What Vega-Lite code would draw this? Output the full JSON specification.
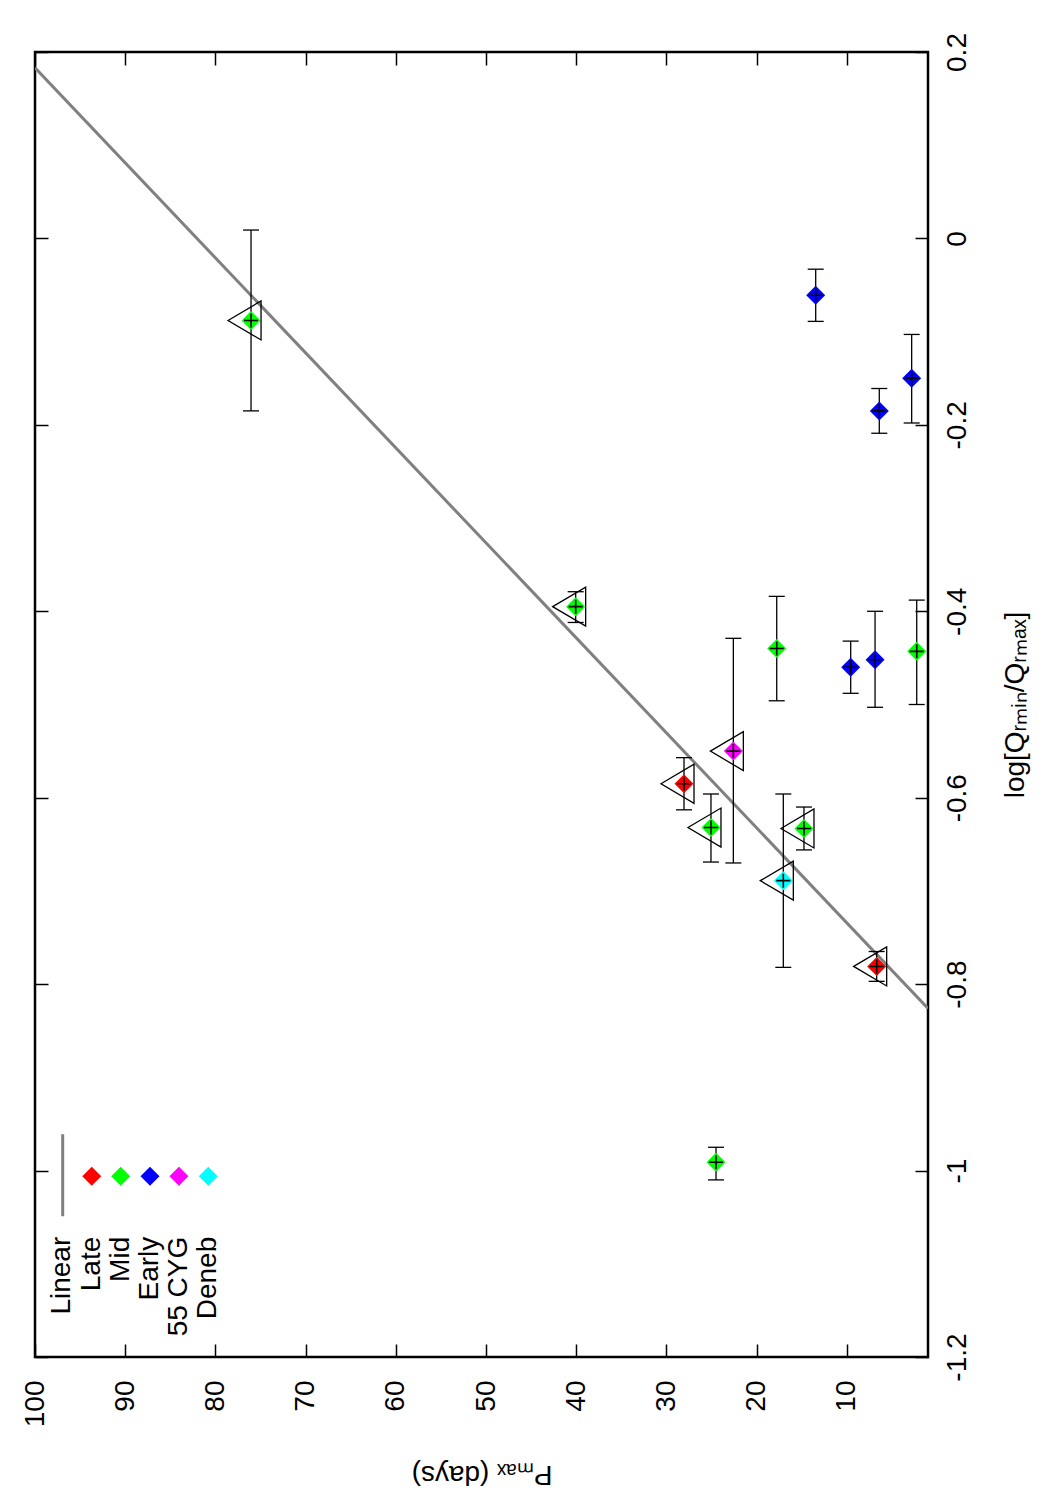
{
  "$schema": "https://vega.github.io/schema/vega-lite/v6.json",
  "width": 893,
  "height": 1305,
  "autosize": {"type": "none"},
  "padding": {"left": 35, "top": 52, "right": 122, "bottom": 143},
  "background": "white",
  "config": {
    "font": "Liberation Sans",
    "view": {"stroke": "black", "strokeWidth": 2.5},
    "axis": {"grid": false, "domain": false, "tickColor": "black", "tickWidth": 1.5, "labelColor": "black", "titleColor": "black", "labelFont": "Liberation Sans", "titleFont": "Liberation Sans", "labelFontSize": 28, "titleFontSize": 28, "titleFontWeight": "normal", "labelFlush": false, "labelOverlap": false}
  },
  "datasets": {
    "points": [
      {"P": 76.05, "Q": -0.088, "lo": -0.185, "hi": 0.009, "group": "Mid", "fit": true},
      {"P": 40.06, "Q": -0.395, "lo": -0.412, "hi": -0.379, "group": "Mid", "fit": true},
      {"P": 17.77, "Q": -0.440, "lo": -0.496, "hi": -0.384, "group": "Mid", "fit": false},
      {"P": 2.25, "Q": -0.443, "lo": -0.500, "hi": -0.388, "group": "Mid", "fit": false},
      {"P": 9.57, "Q": -0.460, "lo": -0.488, "hi": -0.432, "group": "Early", "fit": false},
      {"P": 6.87, "Q": -0.452, "lo": -0.503, "hi": -0.400, "group": "Early", "fit": false},
      {"P": 13.45, "Q": -0.061, "lo": -0.089, "hi": -0.033, "group": "Early", "fit": false},
      {"P": 6.40, "Q": -0.185, "lo": -0.209, "hi": -0.161, "group": "Early", "fit": false},
      {"P": 2.81, "Q": -0.150, "lo": -0.198, "hi": -0.103, "group": "Early", "fit": false},
      {"P": 22.58, "Q": -0.550, "lo": -0.670, "hi": -0.429, "group": "55 CYG", "fit": true},
      {"P": 28.05, "Q": -0.585, "lo": -0.613, "hi": -0.557, "group": "Late", "fit": true},
      {"P": 25.06, "Q": -0.632, "lo": -0.669, "hi": -0.596, "group": "Mid", "fit": true},
      {"P": 14.75, "Q": -0.633, "lo": -0.656, "hi": -0.610, "group": "Mid", "fit": true},
      {"P": 17.04, "Q": -0.689, "lo": -0.782, "hi": -0.596, "group": "Deneb", "fit": true},
      {"P": 6.69, "Q": -0.781, "lo": -0.797, "hi": -0.765, "group": "Late", "fit": true},
      {"P": 24.50, "Q": -0.991, "lo": -1.010, "hi": -0.975, "group": "Mid", "fit": false}
    ],
    "fitline": [
      {"P": 100, "Q": 0.183},
      {"P": 1, "Q": -0.826}
    ]
  },
  "layer": [
    {
      "data": {"name": "fitline"},
      "mark": {"type": "line", "color": "#808080", "strokeWidth": 3, "clip": true},
      "encoding": {
        "x": {"field": "P", "type": "quantitative", "scale": {"domain": [1, 100], "reverse": true, "nice": false, "zero": false}, "axis": null},
        "y": {"field": "Q", "type": "quantitative", "scale": {"domain": [-1.2, 0.2], "nice": false, "zero": false}, "axis": null}
      }
    },
    {
      "data": {"name": "points"},
      "mark": {"type": "rule", "color": "black", "strokeWidth": 1.3},
      "encoding": {
        "x": {"field": "P", "type": "quantitative", "scale": {"domain": [1, 100], "reverse": true, "nice": false, "zero": false},
          "axis": {"orient": "bottom", "values": [10, 20, 30, 40, 50, 60, 70, 80, 90, 100], "tickSize": -13, "labelAngle": 270, "labelAlign": "right", "labelBaseline": "middle", "labelPadding": 36, "title": "Pₘₐₓ (days)", "titleAngle": 180, "titleBaseline": "bottom", "titlePadding": 33}},
        "y": {"field": "lo", "type": "quantitative", "scale": {"domain": [-1.2, 0.2], "nice": false, "zero": false},
          "axis": {"orient": "right", "values": [-1.2, -1, -0.8, -0.6, -0.4, -0.2, 0, 0.2], "tickSize": -13, "labelAngle": 270, "labelAlign": "center", "labelBaseline": "top", "labelPadding": 28, "labelExpr": "toString(round(datum.value*10)/10)", "title": "log[Qᵣₘᵢₙ/Qᵣₘₐₓ]", "titleAngle": 270, "titleBaseline": "top", "titlePadding": 30}},
        "y2": {"field": "hi"}
      }
    },
    {
      "data": {"name": "points"},
      "mark": {"type": "tick", "orient": "horizontal", "color": "black", "size": 16, "thickness": 1.3, "opacity": 1},
      "encoding": {
        "x": {"field": "P", "type": "quantitative", "axis": null},
        "y": {"field": "lo", "type": "quantitative", "axis": null}
      }
    },
    {
      "data": {"name": "points"},
      "mark": {"type": "tick", "orient": "horizontal", "color": "black", "size": 16, "thickness": 1.3, "opacity": 1},
      "encoding": {
        "x": {"field": "P", "type": "quantitative", "axis": null},
        "y": {"field": "hi", "type": "quantitative", "axis": null}
      }
    },
    {
      "data": {"name": "points"},
      "mark": {"type": "point", "shape": "diamond", "filled": true, "size": 361, "opacity": 1, "strokeWidth": 0},
      "encoding": {
        "x": {"field": "P", "type": "quantitative",
          "axis": {"orient": "top", "values": [10, 20, 30, 40, 50, 60, 70, 80, 90, 100], "tickSize": -13, "labels": false, "title": null}},
        "y": {"field": "Q", "type": "quantitative",
          "axis": {"orient": "left", "values": [-1.2, -1, -0.8, -0.6, -0.4, -0.2, 0, 0.2], "tickSize": -13, "labels": false, "title": null}},
        "color": {"field": "group", "type": "nominal", "scale": {"domain": ["Late", "Mid", "Early", "55 CYG", "Deneb"], "range": ["#ff0000", "#00ff00", "#0000ff", "#ff00ff", "#00ffff"]}, "legend": null}
      }
    },
    {
      "data": {"name": "points"},
      "mark": {"type": "point", "shape": "M-1,0L1,0M0,-1L0,1", "filled": false, "size": 196, "stroke": "black", "strokeWidth": 1.6, "opacity": 1},
      "encoding": {
        "x": {"field": "P", "type": "quantitative", "axis": null},
        "y": {"field": "Q", "type": "quantitative", "axis": null}
      }
    },
    {
      "data": {"name": "points"},
      "transform": [{"filter": "datum.fit"}],
      "mark": {"type": "point", "shape": "M-1,0L0.435,-0.848L0.435,0.848Z", "filled": false, "size": 2116, "stroke": "black", "strokeWidth": 1.3, "opacity": 1},
      "encoding": {
        "x": {"field": "P", "type": "quantitative", "axis": null},
        "y": {"field": "Q", "type": "quantitative", "axis": null}
      }
    },
    {
      "data": {"values": [{}]},
      "mark": {"type": "rule", "color": "#808080", "strokeWidth": 3},
      "encoding": {
        "x": {"datum": 96.93, "type": "quantitative", "axis": null},
        "y": {"datum": -0.961, "type": "quantitative", "axis": null},
        "y2": {"datum": -1.049}
      }
    },
    {"data": {"values": [{}]}, "mark": {"type": "point", "shape": "diamond", "filled": true, "size": 361, "opacity": 1, "color": "#ff0000"}, "encoding": {"x": {"datum": 93.71, "type": "quantitative", "axis": null}, "y": {"datum": -1.006, "type": "quantitative", "axis": null}}},
    {"data": {"values": [{}]}, "mark": {"type": "point", "shape": "diamond", "filled": true, "size": 361, "opacity": 1, "color": "#00ff00"}, "encoding": {"x": {"datum": 90.5, "type": "quantitative", "axis": null}, "y": {"datum": -1.006, "type": "quantitative", "axis": null}}},
    {"data": {"values": [{}]}, "mark": {"type": "point", "shape": "diamond", "filled": true, "size": 361, "opacity": 1, "color": "#0000ff"}, "encoding": {"x": {"datum": 87.25, "type": "quantitative", "axis": null}, "y": {"datum": -1.006, "type": "quantitative", "axis": null}}},
    {"data": {"values": [{}]}, "mark": {"type": "point", "shape": "diamond", "filled": true, "size": 361, "opacity": 1, "color": "#ff00ff"}, "encoding": {"x": {"datum": 84.04, "type": "quantitative", "axis": null}, "y": {"datum": -1.006, "type": "quantitative", "axis": null}}},
    {"data": {"values": [{}]}, "mark": {"type": "point", "shape": "diamond", "filled": true, "size": 361, "opacity": 1, "color": "#00ffff"}, "encoding": {"x": {"datum": 80.79, "type": "quantitative", "axis": null}, "y": {"datum": -1.006, "type": "quantitative", "axis": null}}},
    {"data": {"values": [{}]}, "mark": {"type": "text", "text": "Linear", "angle": 270, "align": "right", "baseline": "middle", "fontSize": 28, "font": "Liberation Sans", "color": "black"}, "encoding": {"x": {"datum": 96.98, "type": "quantitative", "axis": null}, "y": {"datum": -1.071, "type": "quantitative", "axis": null}}},
    {"data": {"values": [{}]}, "mark": {"type": "text", "text": "Late", "angle": 270, "align": "right", "baseline": "middle", "fontSize": 28, "font": "Liberation Sans", "color": "black"}, "encoding": {"x": {"datum": 93.71, "type": "quantitative", "axis": null}, "y": {"datum": -1.071, "type": "quantitative", "axis": null}}},
    {"data": {"values": [{}]}, "mark": {"type": "text", "text": "Mid", "angle": 270, "align": "right", "baseline": "middle", "fontSize": 28, "font": "Liberation Sans", "color": "black"}, "encoding": {"x": {"datum": 90.5, "type": "quantitative", "axis": null}, "y": {"datum": -1.071, "type": "quantitative", "axis": null}}},
    {"data": {"values": [{}]}, "mark": {"type": "text", "text": "Early", "angle": 270, "align": "right", "baseline": "middle", "fontSize": 28, "font": "Liberation Sans", "color": "black"}, "encoding": {"x": {"datum": 87.25, "type": "quantitative", "axis": null}, "y": {"datum": -1.071, "type": "quantitative", "axis": null}}},
    {"data": {"values": [{}]}, "mark": {"type": "text", "text": "55 CYG", "angle": 270, "align": "right", "baseline": "middle", "fontSize": 28, "font": "Liberation Sans", "color": "black"}, "encoding": {"x": {"datum": 84.04, "type": "quantitative", "axis": null}, "y": {"datum": -1.071, "type": "quantitative", "axis": null}}},
    {"data": {"values": [{}]}, "mark": {"type": "text", "text": "Deneb", "angle": 270, "align": "right", "baseline": "middle", "fontSize": 28, "font": "Liberation Sans", "color": "black"}, "encoding": {"x": {"datum": 80.79, "type": "quantitative", "axis": null}, "y": {"datum": -1.071, "type": "quantitative", "axis": null}}}
  ],
  "resolve": {"axis": {"x": "independent", "y": "independent"}}
}
